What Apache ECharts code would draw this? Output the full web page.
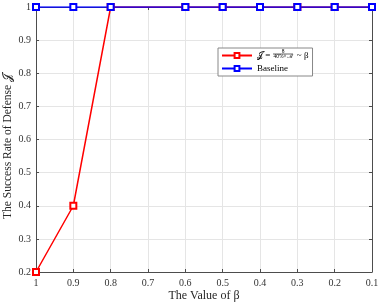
<!DOCTYPE html>
<html><head><meta charset="utf-8">
<script src="https://cdn.jsdelivr.net/npm/echarts@6/dist/echarts.min.js"></script>
<style>html,body{margin:0;padding:0;background:#fff}#c{width:381px;height:306px}</style>
</head><body><div id="c"></div>
<script>
const betaValues = [1, 0.9, 0.8, 0.6, 0.5, 0.4, 0.3, 0.2, 0.1];
const proposedRates = [0.2, 0.4, 1, 1, 1, 1, 1, 1, 1];
const baselineRates = [1, 1, 1, 1, 1, 1, 1, 1, 1];
const seriesNames = ['proposed', 'Baseline'];
const fractionNumerator = '8';
const fractionDenominator = '40%×ℳ';
const xAxisName = 'The Value of β';
const yAxisName = 'The Success Rate of Defense 𝒥';

const serif = '"Liberation Serif", "DejaVu Serif", serif';
const axisGray = '#4d4d4d';
const chart = echarts.init(document.getElementById('c'));
const pairs = (xs, ys) => xs.map((x, i) => [x, ys[i]]);
const hiddenAxis = {
  axisLine: {show: true, lineStyle: {color: axisGray, width: 1}},
  axisTick: {show: true, inside: true, length: 3, lineStyle: {color: axisGray}},
  axisLabel: {show: false}, splitLine: {show: false}
};
chart.setOption({
  animation: false,
  textStyle: {fontFamily: serif},
  grid: {left: 36, right: 9, top: 7, bottom: 34, containLabel: false, outerBoundsMode: 'none'},
  legend: {
    left: 218, top: 48, orient: 'vertical',
    backgroundColor: '#fff', borderColor: '#888', borderWidth: 1, borderRadius: 0,
    padding: [3, 4, 3, 3], itemGap: 4, itemWidth: 30, itemHeight: 6,
    formatter: function (name) {
      if (name === 'proposed') return '{t|𝒥 = }{g|}{t| ~ β}';
      return name;
    },
    data: seriesNames,
    textStyle: {
      fontFamily: serif, fontSize: 9, color: '#000',
      rich: {t: {fontFamily: serif, fontSize: 9}, g: {width: 22, fontSize: 9}}
    }
  },
  graphic: [
    {type: 'text', x: 283, y: 51.5, z: 200, style: {text: fractionNumerator, font: '5.5px ' + serif, fill: '#000', align: 'center', verticalAlign: 'middle'}},
    {type: 'line', z: 200, shape: {x1: 273, y1: 54, x2: 293, y2: 54}, style: {stroke: '#000', lineWidth: 0.6}},
    {type: 'text', x: 283, y: 57, z: 200, style: {text: fractionDenominator, font: '5.5px ' + serif, fill: '#000', align: 'center', verticalAlign: 'middle'}}
  ],
  xAxis: [{
    type: 'value', inverse: true, min: 0.1, max: 1, interval: 0.1,
    name: xAxisName, nameLocation: 'middle', nameGap: 18, nameMoveOverlap: false,
    nameTextStyle: {fontFamily: serif, fontSize: 12, color: '#262626'},
    axisLine: {show: true, lineStyle: {color: axisGray}},
    axisTick: {show: true, inside: true, length: 3, lineStyle: {color: axisGray}},
    axisLabel: {fontFamily: serif, fontSize: 10, color: '#333', margin: 6,
      formatter: v => String(Math.round(v * 10) / 10)},
    splitLine: {show: true, lineStyle: {color: '#e5e5e5', width: 1}}
  }, Object.assign({type: 'value', inverse: true, min: 0.1, max: 1, interval: 0.1, position: 'top'}, hiddenAxis)],
  yAxis: [{
    type: 'value', min: 0.2, max: 1, interval: 0.1,
    name: yAxisName, nameLocation: 'middle', nameGap: 22, nameMoveOverlap: false,
    nameTextStyle: {fontFamily: serif, fontSize: 11.5, color: '#262626', padding: [0, 14, 0, 0]},
    axisLine: {show: true, lineStyle: {color: axisGray}},
    axisTick: {show: true, inside: true, length: 3, lineStyle: {color: axisGray}},
    axisLabel: {fontFamily: serif, fontSize: 10, color: '#333', margin: 5,
      formatter: v => String(Math.round(v * 10) / 10)},
    splitLine: {show: true, lineStyle: {color: '#e5e5e5', width: 1}}
  }, Object.assign({type: 'value', min: 0.2, max: 1, interval: 0.1, position: 'right'}, hiddenAxis)],
  series: [{
    name: seriesNames[0], type: 'line', data: pairs(betaValues, proposedRates),
    symbol: 'emptyRect', symbolSize: 6, color: '#ff0000',
    lineStyle: {color: '#ff0000', width: 1.5}, itemStyle: {color: '#ff0000', borderWidth: 1.2}
  }, {
    name: seriesNames[1], type: 'line', data: pairs(betaValues, baselineRates),
    symbol: 'emptyRect', symbolSize: 6, color: '#0000ff',
    lineStyle: {color: '#0000ff', width: 1.5}, itemStyle: {color: '#0000ff', borderWidth: 1.2},
    z: 3
  }]
});
</script></body></html>
